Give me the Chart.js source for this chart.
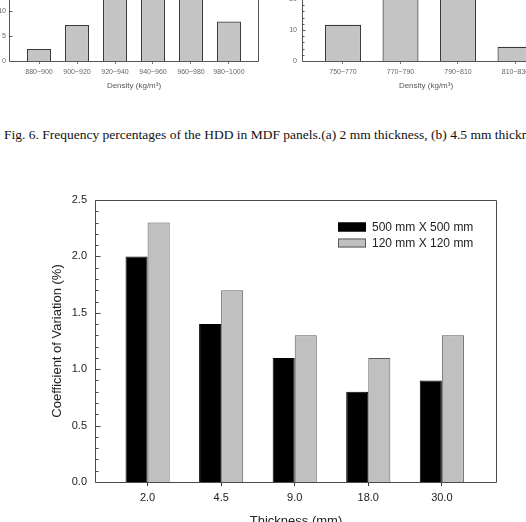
<!DOCTYPE html>
<html><head><meta charset="utf-8">
<script src="https://cdn.jsdelivr.net/npm/chart.js@4.4.0/dist/chart.umd.min.js"></script>
<style>
html,body{margin:0;padding:0;width:526px;height:522px;overflow:hidden;background:#fff;position:relative;}
canvas{position:absolute;}
#caption{position:absolute;left:4px;top:125px;font:13.5px "Liberation Serif","Times New Roman",serif;color:#111;white-space:nowrap;line-height:20px;}
</style></head><body>
<canvas id="histA" width="270" height="240" style="left:0;top:-140px"></canvas>
<canvas id="histB" width="280" height="240" style="left:270px;top:-140px"></canvas>
<div id="caption">Fig. 6. Frequency percentages of the HDD in MDF panels.(a) 2 mm thickness, (b) 4.5 mm thickness</div>
<canvas id="main" width="526" height="370" style="left:0;top:170px"></canvas>
<script>
// ---- main chart data ----
const thickness = ['2.0', '4.5', '9.0', '18.0', '30.0'];
const cv500 = [2.0, 1.4, 1.1, 0.8, 0.9];
const cv120 = [2.3, 1.7, 1.3, 1.1, 1.3];
const seriesNames = ['500 mm X 500 mm', '120 mm X 120 mm'];
const yTickValues = [0, 0.5, 1.0, 1.5, 2.0, 2.5];

// ---- partial histograms at the top (Fig. 6) ----
const densA = ['880~900', '900~920', '920~940', '940~960', '960~980', '980~1000'];
const freqA = [2.4, 7.2, 24, 27, 25, 7.9];
const densB = ['750~770', '770~790', '790~810', '810~830'];
const freqB = [11.7, 33, 35, 4.6];

const FONT = '"Liberation Sans", Arial, sans-serif';
Chart.defaults.font.family = FONT;
Chart.defaults.animation = false;

function pts(arr, base) { return arr.map((v, i) => ({ x: i + base, y: v })); }

const framePlugin = {
  id: 'frame',
  afterDraw(chart, args, opts) {
    if (!opts || !opts.sides) return;
    const { ctx, chartArea: a, scales: { y } } = chart;
    const L = Math.round(a.left) + 0.5, R = Math.round(a.right) - 0.5;
    const T = Math.round(a.top) + 0.5, B = Math.round(a.bottom) + 0.5;
    ctx.save();
    ctx.lineWidth = 1;
    ctx.strokeStyle = opts.color || '#444';
    ctx.beginPath();
    if (opts.sides.includes('left')) { ctx.moveTo(L, T); ctx.lineTo(L, B); }
    if (opts.sides.includes('bottom')) { ctx.moveTo(L, B); ctx.lineTo(R, B); }
    if (opts.sides.includes('right')) { ctx.moveTo(R, T); ctx.lineTo(R, B); }
    if (opts.sides.includes('top')) { ctx.moveTo(L, T); ctx.lineTo(R, T); }
    ctx.stroke();
    if (opts.minor) {
      ctx.beginPath();
      const n = Math.round((y.max - y.min) / opts.minor);
      for (let k = 0; k <= n; k++) {
        const v = y.min + k * opts.minor;
        const py = Math.round(y.getPixelForValue(v)) + 0.5;
        const len = (k % opts.majorEvery === 0) ? opts.majorLen : opts.minorLen;
        ctx.moveTo(L, py); ctx.lineTo(L + len, py);
      }
      ctx.stroke();
    }
    if (opts.legend) {
      const ds = chart.data.datasets;
      const bx = a.right - 159;
      ctx.font = '12px ' + FONT;
      ctx.textBaseline = 'middle';
      ctx.textAlign = 'left';
      ds.forEach((d, i) => {
        const top = a.top + 22.5 + i * 16;
        ctx.fillStyle = d.backgroundColor;
        ctx.fillRect(bx, top, 28, 9);
        ctx.strokeStyle = d.borderColor;
        ctx.strokeRect(bx + 0.5, top + 0.5, 27, 8);
        ctx.fillStyle = '#222';
        ctx.fillText(d.label, a.right - 125, top + 5);
      });
    }
    ctx.restore();
  }
};

new Chart(document.getElementById('main'), {
  type: 'bar',
  data: {
    datasets: [
      { label: seriesNames[0], data: pts(cv500, 1), backgroundColor: '#000000', borderColor: '#000000', borderWidth: 1, categoryPercentage: 0.6, barPercentage: 1 },
      { label: seriesNames[1], data: pts(cv120, 1), backgroundColor: '#c0c0c0', borderColor: '#5a5a5a', borderWidth: 1, categoryPercentage: 0.6, barPercentage: 1 }
    ]
  },
  options: {
    responsive: false, animation: false,
    layout: { padding: { top: 30, right: 29, left: 0, bottom: 0 } },
    plugins: {
      legend: { display: false }, tooltip: { enabled: false },
      frame: { sides: ['left', 'bottom', 'right', 'top'], color: '#4a4a4a', minor: 0.1, majorEvery: 5, majorLen: 5, minorLen: 3, legend: true }
    },
    scales: {
      x: {
        type: 'linear', min: 0.285, max: 5.75, offset: false,
        afterBuildTicks: s => { s.ticks = thickness.map((_, i) => ({ value: i + 1 })); },
        afterFit: s => { s.height = 58; },
        grid: { display: true, drawOnChartArea: false, drawTicks: true, tickLength: 4, color: '#333', offset: false },
        border: { display: false },
        ticks: { callback: v => thickness[v - 1], font: { size: 11 }, color: '#222', padding: 5, maxRotation: 0, autoSkip: false },
        title: { display: true, text: 'Thickness (mm)', font: { size: 13 }, color: '#222', padding: { top: 0, bottom: 11 } }
      },
      y: {
        min: 0, max: 2.5,
        afterBuildTicks: s => { s.ticks = yTickValues.map(v => ({ value: v })); },
        afterFit: s => { s.width = 95; },
        grid: { display: false, drawTicks: false },
        border: { display: false },
        ticks: { callback: v => Number(v).toFixed(1), font: { size: 11 }, color: '#222', padding: 8 },
        title: { display: true, text: 'Coefficient of Variation (%)', font: { size: 13 }, color: '#222', padding: { top: 50, bottom: 0 } }
      }
    }
  },
  plugins: [framePlugin]
});

function hist(id, labels, values, o) {
  return new Chart(document.getElementById(id), {
    type: 'bar',
    data: { datasets: [{ data: pts(values, 0), backgroundColor: '#c4c4c4', borderColor: '#3a3a3a', borderWidth: 1.2, categoryPercentage: o.cat, barPercentage: 1 }] },
    options: {
      responsive: false, animation: false,
      layout: { padding: o.pad },
      plugins: { legend: { display: false }, tooltip: { enabled: false },
        frame: { sides: o.sides, color: '#555', minor: o.minor, majorEvery: o.majorEvery, majorLen: 3, minorLen: 2 } },
      scales: {
        x: {
          type: 'linear', min: o.xmin, max: o.xmax, offset: false,
          afterBuildTicks: s => { s.ticks = labels.map((_, i) => ({ value: i })); },
          afterFit: s => { s.height = 39; },
          grid: { display: true, drawOnChartArea: false, drawTicks: true, tickLength: 3, color: '#777', offset: false },
          border: { display: false },
          ticks: { callback: v => labels[v], font: { size: 7 }, color: '#666', padding: 4, maxRotation: 0, autoSkip: false },
          title: { display: true, text: 'Density (kg/m³)', font: { size: 8 }, color: '#555', padding: { top: 0, bottom: 9 } }
        },
        y: {
          min: 0, max: o.ymax,
          ticks: { stepSize: o.step, font: { size: 7 }, color: '#666', padding: o.ypad },
          afterFit: s => { s.width = o.yw; },
          grid: { display: false, drawTicks: false },
          border: { display: false }
        }
      }
    },
    plugins: [framePlugin]
  });
}

hist('histA', densA, freqA, { cat: 0.632, pad: { top: 26, right: 11, left: 0, bottom: 0 }, xmin: -0.79, xmax: 5.79, ymax: 35, step: 5, yw: 9, ypad: 3, sides: ['left', 'bottom', 'right'], minor: 5, majorEvery: 1 });
hist('histB', densB, freqB, { cat: 0.626, pad: { top: 77, right: 0, left: 0, bottom: 0 }, xmin: -0.713, xmax: 3.6, ymax: 40, step: 10, yw: 32, ypad: 5, sides: ['left', 'bottom'], minor: 2, majorEvery: 5 });
</script>
</body></html>
